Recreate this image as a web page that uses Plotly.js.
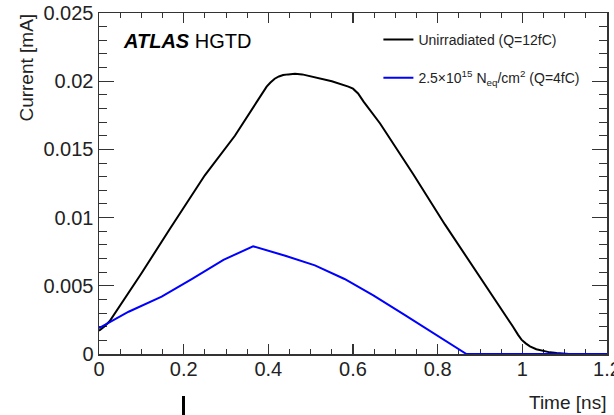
<!DOCTYPE html>
<html>
<head>
<meta charset="utf-8">
<script src="https://cdn.plot.ly/plotly-3.0.1.min.js"></script>
<style>html,body{margin:0;padding:0;background:#fff;}#chart{width:614px;height:415px;}</style>
</head>
<body>
<div id="chart"></div>
<script>
// Unirradiated (Q=12fC)
var blackT = [0, 0.012, 0.025, 0.06, 0.1, 0.168, 0.25, 0.321, 0.396, 0.405, 0.415, 0.425, 0.435, 0.447, 0.463, 0.48, 0.506, 0.55, 0.589, 0.6, 0.612, 0.625, 0.664, 0.742, 0.817, 0.86, 0.939, 0.965, 0.978, 0.99, 0.998, 1.008, 1.018, 1.033, 1.049, 1.065, 1.081, 1.11, 1.2];
var blackI = [0.0017, 0.0020, 0.0024, 0.0040, 0.0059, 0.0092, 0.0131, 0.0160, 0.0196, 0.0199, 0.02018, 0.02035, 0.02045, 0.0205, 0.02055, 0.0205, 0.0203, 0.0200, 0.0196, 0.01945, 0.0191, 0.0185, 0.0169, 0.0132, 0.0095, 0.0075, 0.0039, 0.0026, 0.0020, 0.0014, 0.00105, 0.00078, 0.00056, 0.00035, 0.00021, 0.00012, 0.00007, 0, 0];
// 2.5e15 neq/cm2 (Q=4fC)
var blueT = [0, 0.07, 0.148, 0.22, 0.294, 0.364, 0.44, 0.51, 0.58, 0.648, 0.72, 0.797, 0.868, 1.2];
var blueI = [0.0019, 0.0031, 0.0042, 0.0055, 0.0069, 0.0079, 0.0072, 0.0065, 0.0055, 0.0043, 0.0029, 0.0014, 0, 0];

var seriesNames = ['Unirradiated (Q=12fC)', '2.5×10<sup>15</sup> N<sub>eq</sub>/cm<sup>2</sup> (Q=4fC)'];
var xTitle = 'Time [ns]';
var yTitle = 'Current [mA]';

var font = 'Liberation Sans, Arial, sans-serif';

var traces = [
  {x: blackT, y: blackI, mode: 'lines', name: seriesNames[0], legendgroup: 'a',
   line: {color: '#000000', width: 2}},
  {x: blueT, y: blueI, mode: 'lines', name: seriesNames[1], legendgroup: 'b',
   line: {color: '#0000ff', width: 2}}
];

var axisCommon = {
  showgrid: false, zeroline: false, showline: true, mirror: 'ticks',
  linecolor: '#333', linewidth: 1.5, ticks: 'inside', tickcolor: '#333', tickwidth: 1.2,
  tickfont: {family: font, size: 20, color: '#222'}, layer: 'below traces',
  ticklabeloverflow: 'allow'
};

var layout = {
  width: 614, height: 415,
  margin: {l: 99, r: 7, t: 13, b: 61, pad: 0},
  paper_bgcolor: '#fff', plot_bgcolor: '#fff',
  showlegend: true,
  legend: {x: 0.55, y: 0.968, xanchor: 'left', yanchor: 'top', bgcolor: 'rgba(0,0,0,0)',
    borderwidth: 0, font: {family: font, size: 14, color: '#222'},
    traceorder: 'grouped', tracegroupgap: 17},
  xaxis: Object.assign({}, axisCommon, {range: [0, 1.2], dtick: 0.2, tick0: 0, ticklen: 10,
    ticklabelstandoff: -4,
    minor: {dtick: 0.05, ticklen: 5, ticks: 'inside', tickcolor: '#333', tickwidth: 1}}),
  yaxis: Object.assign({}, axisCommon, {range: [0, 0.025], dtick: 0.005, tick0: 0, ticklen: 15,
    minor: {dtick: 0.001, ticklen: 8, ticks: 'inside', tickcolor: '#333', tickwidth: 1}}),
  annotations: [
    {text: '<b><i>ATLAS</i></b> HGTD', xref: 'paper', yref: 'paper', x: 0.0433, y: 0.9188,
     xanchor: 'left', yanchor: 'middle', showarrow: false, font: {family: font, size: 20, color: '#000'}},
    {text: xTitle, xref: 'paper', yref: 'paper', x: 1.002, y: -0.1408,
     xanchor: 'right', yanchor: 'middle', showarrow: false, font: {family: font, size: 19, color: '#222'}},
    {text: yTitle, xref: 'paper', yref: 'paper', x: -0.1417, y: 0.840, textangle: -90,
     xanchor: 'center', yanchor: 'middle', showarrow: false, font: {family: font, size: 19, color: '#222'}}
  ],
  shapes: [
    {type: 'rect', xref: 'paper', yref: 'paper', x0: 0.1634, x1: 0.1693, y0: -0.1789, y1: -0.1232,
     fillcolor: '#000', line: {width: 0}}
  ]
};

Plotly.newPlot('chart', traces, layout, {displayModeBar: false, staticPlot: true});
</script>
</body>
</html>
